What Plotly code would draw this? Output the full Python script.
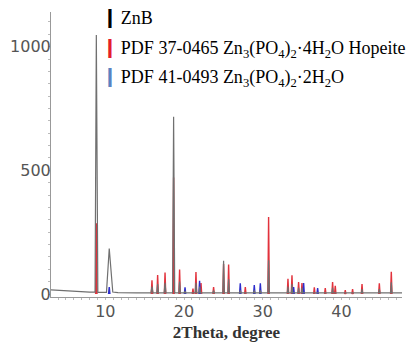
import plotly.graph_objects as go

znb_theta = [3.1, 4.0, 5.0, 6.0, 7.0, 8.0, 8.7, 8.86, 9.05, 9.6, 10.15, 10.5, 10.95, 11.6, 12.5, 14.0,
             15.8, 15.93, 16.06, 16.55, 16.65, 16.75, 17.48, 17.59, 17.7, 18.55, 18.68, 18.82,
             19.34, 19.44, 19.54, 20.05, 20.13, 20.21, 21.42, 21.52, 21.62, 21.9, 22.0, 22.1,
             23.68, 23.76, 23.84, 24.93, 25.03, 25.13, 25.57, 25.67, 25.77, 27.07, 27.15, 27.23,
             28.85, 28.93, 29.01, 29.62, 29.70, 29.78, 30.65, 30.75, 30.85, 33.13, 33.21, 33.29,
             33.64, 33.72, 33.80, 34.48, 34.56, 34.64, 34.92, 35.00, 35.08, 38.80, 38.88, 38.96,
             42.54, 42.62, 42.70, 44.74, 44.82, 44.90, 46.26, 46.34, 46.42, 47.7]
znb_int = [17, 15, 13, 11, 9, 8, 8, 1047, 7, 6, 7, 184, 8, 6, 5, 5,
           5, 30, 5, 5, 40, 5, 5, 45, 5, 5, 717, 5,
           5, 50, 5, 5, 12, 5, 5, 45, 5, 5, 30, 5,
           5, 15, 5, 5, 134, 5, 5, 60, 5, 5, 15, 5,
           5, 15, 5, 5, 15, 5, 5, 137, 5, 5, 30, 5,
           5, 40, 5, 5, 25, 5, 5, 25, 5, 5, 25, 5,
           5, 20, 5, 5, 20, 5, 5, 47, 5, 5]

# PDF 37-0465 Hopeite reference lines
hop_theta = [8.86, 15.93, 16.65, 17.59, 18.68, 19.44, 21.14, 21.52, 22.16, 23.76, 25.03, 25.67,
             27.79, 30.75, 33.21, 33.72, 34.56, 34.99, 36.56, 37.95, 38.88, 39.22, 40.49, 41.42,
             42.62, 44.82, 46.34]
hop_int = [286, 56, 77, 87, 471, 99, 22, 89, 44, 28, 121, 119,
           28, 311, 62, 76, 48, 44, 27, 24, 48, 33, 16, 20,
           40, 43, 90]

# PDF 41-0493 Zn3(PO4)2.2H2O reference lines
dih_theta = [10.5, 20.13, 21.98, 27.15, 28.93, 29.70, 33.93, 35.2, 36.98]
dih_int = [28, 27, 54, 43, 36, 43, 28, 44, 24]

legend_names = ["ZnB",
                "PDF 37-0465 Zn<sub>3</sub>(PO<sub>4</sub>)<sub>2</sub>·4H<sub>2</sub>O Hopeite",
                "PDF 41-0493 Zn<sub>3</sub>(PO<sub>4</sub>)<sub>2</sub>·2H<sub>2</sub>O"]
legend_colors = ["#000000", "#e41e2b", "#5a82c2"]

HW = 0.09


def sticks(pos, hts):
    xs, ys = [], []
    for p, h in zip(pos, hts):
        xs += [p - HW, p, p + HW, None]
        ys += [0, h, 0, None]
    return xs, ys


fig = go.Figure()
hx, hy = sticks(hop_theta, hop_int)
bx, by = sticks(dih_theta, dih_int)
fig.add_trace(go.Scatter(x=hx, y=hy, mode="lines", line=dict(color="#e2323c", width=1.4),
                         showlegend=False, legendgroup="hop", hoverinfo="skip"))
fig.add_trace(go.Scatter(x=bx, y=by, mode="lines", line=dict(color="#2d2dcc", width=1.4),
                         showlegend=False, legendgroup="dih", hoverinfo="skip"))
fig.add_trace(go.Scatter(x=znb_theta, y=znb_int, mode="lines", line=dict(color="#707070", width=1.2),
                         showlegend=False, legendgroup="znb"))

for name, col, grp in zip(legend_names, legend_colors, ["znb", "hop", "dih"]):
    fig.add_trace(go.Scatter(
        x=[None], y=[None], mode="markers", marker=dict(color="rgba(0,0,0,0)", size=1),
        name=f'<span style="color:{col};font-family:DejaVu Sans;font-size:16px">▎</span>{name}',
        legendgroup=grp, showlegend=True))

fig.update_layout(
    width=412, height=342,
    margin=dict(l=51, r=10, t=12, b=45, autoexpand=False),
    paper_bgcolor="white", plot_bgcolor="white",
    showlegend=True,
    legend=dict(x=0.05, y=1.045, xanchor="left", yanchor="top",
                bgcolor="rgba(0,0,0,0)", font=dict(family="Liberation Serif", size=18, color="black"),
                tracegroupgap=3, itemwidth=30),
    font=dict(family="DejaVu Sans", size=14, color="#555"),
)
fig.update_xaxes(range=[3.1, 47.7], tickvals=[10, 20, 30, 40], showline=True, linecolor="#999",
                 linewidth=1, ticks="", showgrid=False, zeroline=False,
                 minor=dict(dtick=1, ticks="outside", ticklen=2, tickcolor="#bbb"),
                 tickfont=dict(family="DejaVu Sans", size=16, color="#555"),
                 title=dict(text="<b>2Theta, degree</b>", standoff=9,
                            font=dict(family="Liberation Serif", size=17, color="#333")))
fig.update_yaxes(range=[-12, 1140], tickvals=[0, 500, 1000], showline=True, linecolor="#999",
                 linewidth=1, ticks="", showgrid=False, zeroline=False,
                 minor=dict(dtick=50, ticks="outside", ticklen=2, tickcolor="#bbb"),
                 tickfont=dict(family="DejaVu Sans", size=16, color="#555"))
try:
    fig.update_yaxes(ticklabelstandoff=-4)
except Exception:
    pass

fig.write_html("out.html", config={"displayModeBar": False},
               post_script="document.body.style.margin='0';")
